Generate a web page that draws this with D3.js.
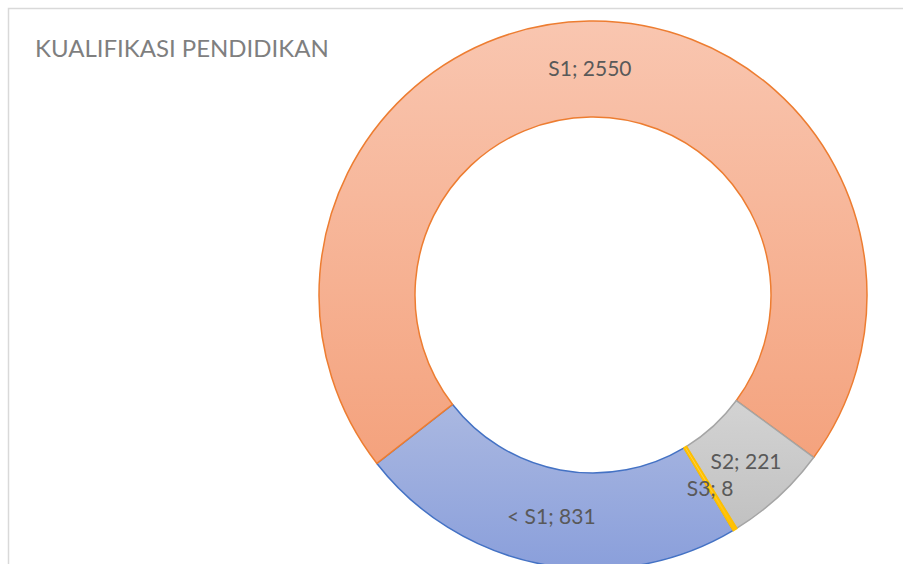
<!DOCTYPE html>
<html>
<head>
<meta charset="utf-8">
<script src="https://cdn.jsdelivr.net/npm/d3@7"></script>
<style>
  body { margin: 0; background: #fff; }
  svg { display: block; }
</style>
</head>
<body>
<div id="chart"></div>
<script>
// data
var categories = ["< S1", "S1", "S2", "S3"];
var values = [831, 2550, 221, 8];
var title = "KUALIFIKASI PENDIDIKAN";

var fillTop = ["#aab8e1", "#f9c6b0", "#d3d3d3", "#ffd966"];
var fillBottom = ["#8a9fdb", "#f4a27d", "#c1c1c1", "#ffc000"];
var strokes = ["#4472c4", "#ed7d31", "#a5a5a5", "#ffc000"];

var width = 903, height = 564;
var cx = 593, cy = 295, outerR = 274, innerR = 178;
var firstAngle = 149.2 * Math.PI / 180;

var svg = d3.select("#chart").append("svg")
  .attr("width", width)
  .attr("height", height);

// chart frame (top + left edges visible)
svg.append("path")
  .attr("d", "M8.5," + height + "V8.5H" + width)
  .attr("fill", "none")
  .attr("stroke", "#d9d9d9")
  .attr("stroke-width", 1.5);

svg.append("text")
  .attr("x", 35)
  .attr("y", 57)
  .attr("fill", "#7f7f7f")
  .style("font-family", "Lato, 'Open Sans', sans-serif")
  .style("font-size", "24px")
  .text(title);

var defs = svg.append("defs");
categories.forEach(function(c, i) {
  var g = defs.append("linearGradient")
    .attr("id", "grad" + i)
    .attr("x1", 0).attr("y1", 0).attr("x2", 0).attr("y2", 1);
  g.append("stop").attr("offset", "0%").attr("stop-color", fillTop[i]);
  g.append("stop").attr("offset", "100%").attr("stop-color", fillBottom[i]);
});

var pie = d3.pie()
  .sort(null)
  .value(function(d) { return d; })
  .startAngle(firstAngle)
  .endAngle(firstAngle + 2 * Math.PI);

var arc = d3.arc().innerRadius(innerR).outerRadius(outerR);

var g = svg.append("g").attr("transform", "translate(" + cx + "," + cy + ")");

var slices = g.selectAll(".slice")
  .data(pie(values))
  .enter().append("g").attr("class", "slice");

slices.append("path")
  .attr("d", arc)
  .attr("fill", function(d, i) { return "url(#grad" + i + ")"; })
  .attr("stroke", function(d, i) { return strokes[i]; })
  .attr("stroke-width", function(d, i) { return i == 3 ? 2 : 1.5; })
  .attr("stroke-linejoin", "round");

slices.append("text")
  .attr("transform", function(d) { return "translate(" + arc.centroid(d) + ")"; })
  .attr("text-anchor", "middle")
  .attr("dy", "0.35em")
  .attr("fill", "#595959")
  .style("font-family", "Lato, 'Open Sans', sans-serif")
  .style("font-size", "21px")
  .text(function(d, i) { return categories[i] + "; " + values[i]; });
</script>
</body>
</html>
